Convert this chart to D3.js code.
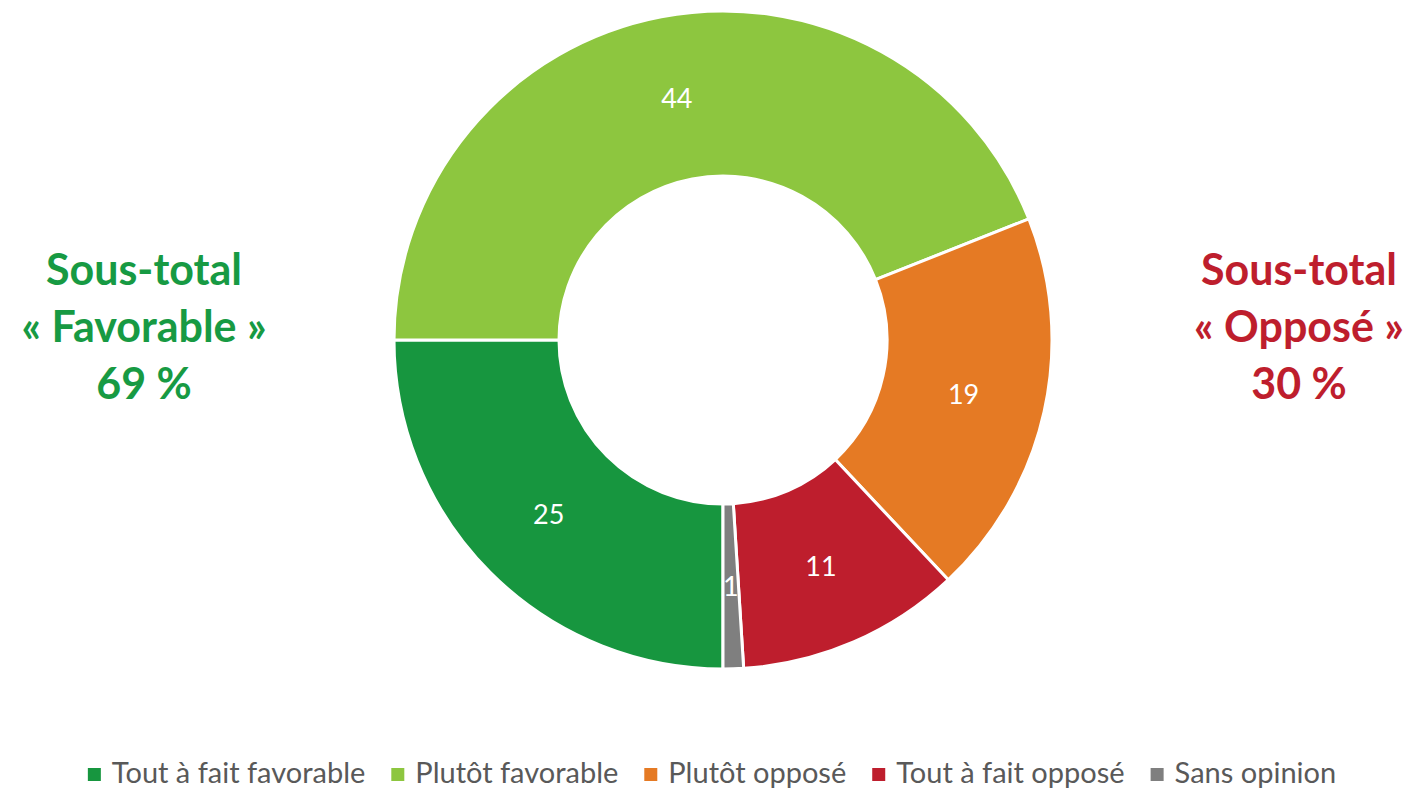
<!DOCTYPE html>
<html>
<head>
<meta charset="utf-8">
<script src="https://cdn.jsdelivr.net/npm/d3@7"></script>
<style>
html,body{margin:0;padding:0;background:#fff;}
svg{display:block;font-family:Lato,"Open Sans",sans-serif;}
</style>
</head>
<body>
<svg id="chart" width="1416" height="793"></svg>
<script>
const categories = ["Tout à fait favorable", "Plutôt favorable", "Plutôt opposé", "Tout à fait opposé", "Sans opinion"];
const values = [25, 44, 19, 11, 1];
const colors = ["#17963F", "#8DC63F", "#E57A24", "#BE1E2D", "#7F7F7F"];
const subtotalLeft = ["Sous-total", "« Favorable »", "69 %"];
const subtotalRight = ["Sous-total", "« Opposé »", "30 %"];

const svg = d3.select("#chart");
const cx = 723, cy = 340, rOuter = 329, rInner = 164;

const pie = d3.pie().sort(null).value(d => d.v)
  .startAngle(Math.PI).endAngle(3 * Math.PI);
const data = categories.map((c, i) => ({c, v: values[i], col: colors[i]}));
const arcs = pie(data);
const arc = d3.arc().innerRadius(rInner).outerRadius(rOuter);
const labelArc = d3.arc().innerRadius((rInner + rOuter) / 2).outerRadius((rInner + rOuter) / 2);

const g = svg.append("g").attr("transform", `translate(${cx},${cy})`);
g.selectAll("path").data(arcs).join("path")
  .attr("d", arc)
  .attr("fill", d => d.data.col)
  .attr("stroke", "#fff")
  .attr("stroke-width", 3)
  .attr("stroke-linejoin", "round");

g.selectAll("text.lbl").data(arcs).join("text")
  .attr("class", "lbl")
  .attr("transform", d => `translate(${labelArc.centroid(d)})`)
  .attr("text-anchor", "middle")
  .attr("dy", "0.36em")
  .attr("fill", "#fff")
  .attr("font-size", 27)
  .text(d => d.data.v);

function subtotal(lines, x, color) {
  const t = svg.append("text")
    .attr("text-anchor", "middle")
    .attr("fill", color)
    .attr("font-weight", "bold")
    .attr("font-size", 43);
  lines.forEach((l, i) => {
    t.append("tspan").attr("x", x).attr("y", 285 + i * 57).text(l);
  });
}
subtotal(subtotalLeft, 144, "#179A43");
subtotal(subtotalRight, 1299, "#BE1E2D");

// Legend
const legend = svg.append("g").attr("class", "legend");
const items = legend.selectAll("g").data(data).join("g");
items.append("rect").attr("width", 13).attr("height", 13).attr("y", -15).attr("fill", d => d.col);
items.append("text").attr("x", 24).attr("y", 0).attr("fill", "#595959").attr("font-size", 29).text(d => d.c);
const gap = 26;
const widths = [];
items.each(function() { widths.push(this.getBBox().width); });
const total = d3.sum(widths) + gap * (widths.length - 1);
const x0 = 712 - total / 2;
items.attr("transform", (d, i) => {
  const x = x0 + d3.sum(widths.slice(0, i)) + gap * i;
  return `translate(${x},783)`;
});
</script>
</body>
</html>
